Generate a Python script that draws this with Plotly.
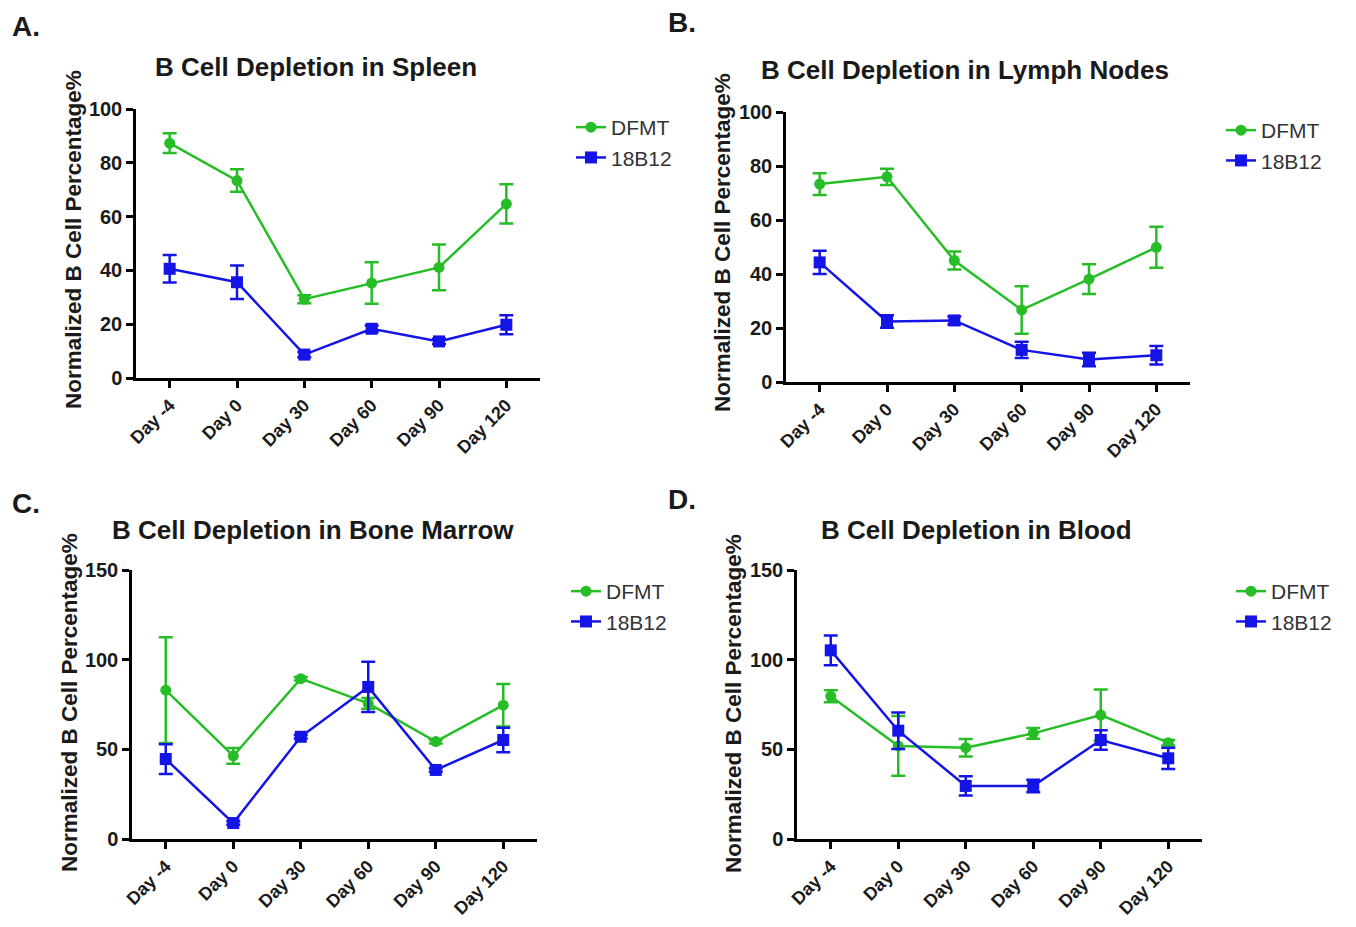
import plotly.graph_objects as go

days = ["Day -4", "Day 0", "Day 30", "Day 60", "Day 90", "Day 120"]

# Panel A: Spleen
spleen_dfmt = [87.3, 73.4, 29.3, 35.3, 41.1, 64.7]
spleen_dfmt_err = [3.7, 4.2, 1.5, 7.7, 8.5, 7.3]
spleen_18b12 = [40.6, 35.6, 8.7, 18.3, 13.6, 19.8]
spleen_18b12_err = [5.1, 6.2, 1.0, 1.2, 1.0, 3.5]

# Panel B: Lymph nodes
lymph_dfmt = [73.3, 76.0, 45.0, 26.7, 38.1, 49.9]
lymph_dfmt_err = [4.0, 3.0, 3.3, 8.8, 5.5, 7.6]
lymph_18b12 = [44.3, 22.4, 22.8, 11.9, 8.3, 9.9]
lymph_18b12_err = [4.3, 2.3, 1.5, 3.0, 2.5, 3.4]

# Panel C: Bone marrow
marrow_dfmt = [83.0, 46.3, 89.4, 75.6, 54.3, 74.6]
marrow_dfmt_err = [29.5, 4.4, 1.0, 3.0, 1.0, 11.8]
marrow_18b12 = [44.6, 8.9, 57.0, 84.8, 38.5, 55.2]
marrow_18b12_err = [8.3, 1.0, 1.0, 14.0, 1.0, 6.8]

# Panel D: Blood
blood_dfmt = [79.6, 51.9, 50.9, 58.9, 69.1, 53.7]
blood_dfmt_err = [3.4, 16.7, 4.9, 3.0, 14.3, 1.5]
blood_18b12 = [105.2, 60.4, 29.6, 29.6, 55.2, 45.0]
blood_18b12_err = [8.3, 10.2, 5.4, 3.5, 5.5, 5.9]

GREEN = "#26bd26"
BLUE = "#1414e6"
FONT = "Arial, Liberation Sans, sans-serif"
OFF = 8  # page body margin
W, H = 1356 - 2 * OFF, 927 - 2 * OFF


def px(x):
    return (x - OFF) / W


def py(y):
    return 1 - (y - OFF) / H


panels = [
    dict(key="", legend="legend", dfmt=spleen_dfmt, dfmt_e=spleen_dfmt_err,
         b=spleen_18b12, b_e=spleen_18b12_err,
         xpx=(136, 540), ypx=(109, 378), ymax=100, dtick=20,
         title="B Cell Depletion in Spleen", tpos=(316, 67),
         label="A.", lpos=(26, 26), legpos=(571, 107), ytpos=(73, 240)),
    dict(key="2", legend="legend2", dfmt=lymph_dfmt, dfmt_e=lymph_dfmt_err,
         b=lymph_18b12, b_e=lymph_18b12_err,
         xpx=(786, 1190), ypx=(112, 382), ymax=100, dtick=20,
         title="B Cell Depletion in Lymph Nodes", tpos=(965, 70),
         label="B.", lpos=(682, 23), legpos=(1221, 110), ytpos=(723, 243)),
    dict(key="3", legend="legend3", dfmt=marrow_dfmt, dfmt_e=marrow_dfmt_err,
         b=marrow_18b12, b_e=marrow_18b12_err,
         xpx=(132, 537), ypx=(570, 839), ymax=150, dtick=50,
         title="B Cell Depletion in Bone Marrow", tpos=(313, 530),
         label="C.", lpos=(26, 503), legpos=(566, 571), ytpos=(69, 703)),
    dict(key="4", legend="legend4", dfmt=blood_dfmt, dfmt_e=blood_dfmt_err,
         b=blood_18b12, b_e=blood_18b12_err,
         xpx=(797, 1202), ypx=(570, 839), ymax=150, dtick=50,
         title="B Cell Depletion in Blood", tpos=(977, 530),
         label="D.", lpos=(682, 499), legpos=(1231, 571), ytpos=(733, 703)),
]

fig = go.Figure()
annotations = []
layout_extra = {}

for p in panels:
    k = p["key"]
    xa, ya = "x" + k, "y" + k
    fig.add_trace(go.Scatter(
        x=days, y=p["dfmt"], xaxis=xa, yaxis=ya, name="DFMT", legend=p["legend"],
        mode="lines+markers",
        line=dict(color=GREEN, width=2.5),
        marker=dict(symbol="circle", size=11, color=GREEN),
        error_y=dict(type="data", array=p["dfmt_e"], visible=True,
                     color=GREEN, thickness=2.5, width=7),
    ))
    fig.add_trace(go.Scatter(
        x=days, y=p["b"], xaxis=xa, yaxis=ya, name="18B12", legend=p["legend"],
        mode="lines+markers",
        line=dict(color=BLUE, width=2.5),
        marker=dict(symbol="square", size=12, color=BLUE),
        error_y=dict(type="data", array=p["b_e"], visible=True,
                     color=BLUE, thickness=2.5, width=7),
    ))
    x0, x1 = p["xpx"]
    ytop, ybot = p["ypx"]
    layout_extra["xaxis" + k] = dict(
        domain=[px(x0), px(x1)], anchor=ya, range=[-0.5, 5.5], automargin=False,
        showline=True, linecolor="black", linewidth=2.5,
        ticks="outside", ticklen=7, tickwidth=2.5, tickcolor="black",
        tickangle=-45, showgrid=False, zeroline=False,
        tickfont=dict(family=FONT, size=18, color="#1a1a1a", weight="bold"),
    )
    layout_extra["yaxis" + k] = dict(
        domain=[py(ybot), py(ytop)], anchor=xa, range=[0, p["ymax"]],
        automargin=False,
        dtick=p["dtick"], showline=True, linecolor="black", linewidth=2.5,
        ticks="outside", ticklen=7, tickwidth=2.5, tickcolor="black",
        showgrid=False, zeroline=False,
        tickfont=dict(family=FONT, size=20, color="#1a1a1a", weight="bold"),
    )
    layout_extra[p["legend"]] = dict(
        x=px(p["legpos"][0]), y=py(p["legpos"][1]), xanchor="left", yanchor="top",
        font=dict(family=FONT, size=21, color="#333333"),
        bgcolor="rgba(0,0,0,0)", tracegroupgap=0, itemwidth=30,
    )
    annotations.append(dict(
        text=p["title"], x=px(p["tpos"][0]), y=py(p["tpos"][1]),
        xref="paper", yref="paper", xanchor="center", yanchor="middle",
        showarrow=False, font=dict(family=FONT, size=26, color="#1a1a1a", weight="bold"),
    ))
    annotations.append(dict(
        text=p["label"], x=px(p["lpos"][0]), y=py(p["lpos"][1]),
        xref="paper", yref="paper", xanchor="center", yanchor="middle",
        showarrow=False, font=dict(family=FONT, size=28, color="#1a1a1a", weight="bold"),
    ))
    annotations.append(dict(
        text="Normalized B Cell Percentage%", x=px(p["ytpos"][0]), y=py(p["ytpos"][1]),
        xref="paper", yref="paper", xanchor="center", yanchor="middle", textangle=-90,
        showarrow=False, font=dict(family=FONT, size=22.5, color="#1a1a1a", weight="bold"),
    ))

fig.update_layout(
    width=W, height=H,
    margin=dict(l=0, r=0, t=0, b=0, autoexpand=False),
    paper_bgcolor="white", plot_bgcolor="white",
    showlegend=True,
    annotations=annotations,
    **layout_extra,
)

fig.write_html("out.html")
